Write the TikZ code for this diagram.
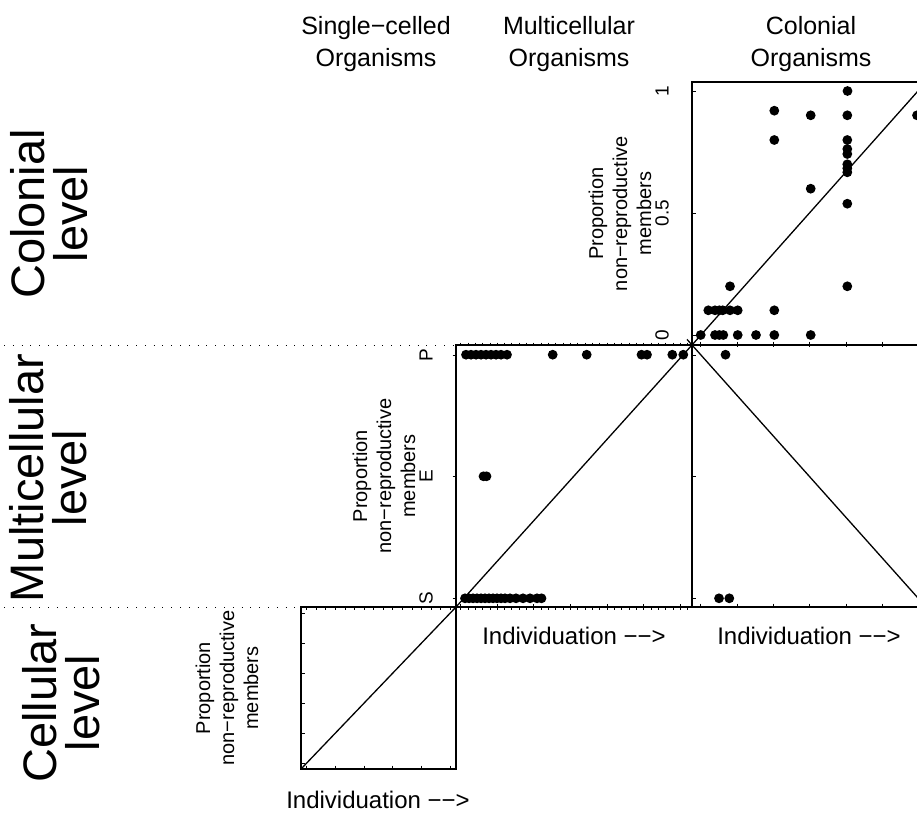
\documentclass[tikz,border=0pt]{standalone}
\usepackage{fontspec}
\setmainfont{Liberation Sans}
\usetikzlibrary{calc}
\begin{document}
\begin{tikzpicture}[x=1pt,y=-1pt,
  frame/.style={line width=1.5pt},
  diag/.style={line width=1.3pt},
  tickm/.style={line width=0.9pt},
  sepline/.style={line width=1pt, dash pattern=on 1pt off 7.8pt},
  hdr/.style={font=\fontsize{25}{30}\selectfont, anchor=base, inner sep=0pt},
  rowlab/.style={font=\fontsize{47}{43}\selectfont, align=center, rotate=90, inner sep=0pt},
  ytitle/.style={font=\fontsize{20}{24}\selectfont, align=center, rotate=90, inner sep=0pt},
  ticklab/.style={font=\fontsize{19}{22}\selectfont, rotate=90, inner sep=0pt},
  xlab/.style={font=\fontsize{24}{28}\selectfont, inner sep=0pt}]
\useasboundingbox (0,0) rectangle (917,813);
\begin{scope}
\clip (0,0) rectangle (917,813);

% panel corners
\coordinate (trBL) at (692,345); \coordinate (trTL) at (692,82);
\coordinate (trTR) at (926,82); \coordinate (trBR) at (926,345);
\coordinate (mcBL) at (456,607); \coordinate (mcTL) at (456,345);
\coordinate (mcTR) at (692,345); \coordinate (mcBR) at (692,607);
\coordinate (mrBL) at (692,607); \coordinate (mrTL) at (692,345);
\coordinate (mrTR) at (926,345); \coordinate (mrBR) at (926,607);
\coordinate (blBL) at (301,769); \coordinate (blTL) at (301,607);
\coordinate (blTR) at (456,607); \coordinate (blBR) at (456,769);
\coordinate (mrX) at (687,339.4);

% separators
\coordinate (sepA) at (4,345); \coordinate (sepB) at (4,607);
\draw[sepline] (sepA) -- (mcTL);
\draw[sepline] (sepB) -- (blTL);

% frames
\draw[frame] (trBL) -- (trTL) -- (trTR);
\draw[frame] (trBL) -- (trBR);
\draw[frame] (mcBL) rectangle (mcTR);
\draw[frame] (mrBL) -- (mrTL) -- (mrTR);
\draw[frame] (mrBL) -- (mrBR);
\draw[frame] (blBL) rectangle (blTR);

% diagonals
\draw[diag] (trBL) -- (trTR);
\draw[diag] (mcBL) -- (mcTR);
\draw[diag] (mrX) -- (mrBR);
\draw[diag] (blBL) -- (blTR);

% ticks: top-right panel
\foreach \yy in {91,213,335} \draw[tickm] (692,\yy) -- (695.5,\yy);
\foreach \xx in {700.7,737.1,773.5,809.9,846.3,882.7} \draw[tickm] (\xx,341.5) -- (\xx,347);
% middle-right
\foreach \yy in {355,476,598} \draw[tickm] (692,\yy) -- (695.5,\yy);
\foreach \xx in {700.7,737.1,773.5,809.9,846.3,882.7} \draw[tickm] (\xx,603.5) -- (\xx,607);
% middle-centre
\foreach \yy in {355,476,598} \draw[tickm] (452.5,\yy) -- (456,\yy);
\foreach \k in {0,...,31} {
  \draw[tickm] (460.7+7.32*\k,342.5) -- (460.7+7.32*\k,345);
  \draw[tickm] (460.7+7.32*\k,607) -- (460.7+7.32*\k,609.5);
}
\foreach \k in {0,...,6} \draw[tickm] (460.7+36.6*\k,604) -- (460.7+36.6*\k,610);
% bottom-left
\foreach \k in {0,...,5} {
  \draw[tickm] (301,613.3+30*\k) -- (304.5,613.3+30*\k);
  \draw[tickm] (306.7+28.7*\k,765.5) -- (306.7+28.7*\k,769);
}
\foreach \k in {0,...,15} \draw[tickm] (306.7+9.57*\k,607) -- (306.7+9.57*\k,609.5);

% data points: colonial x colonial
\foreach \p in {(847.5,91),(774.3,110.7),(810.7,115.3),(847.3,115.3),(917,115.3),
  (774.3,140),(847.3,140),(847.3,149),(847.3,154),(847.3,164.3),(847.3,168.3),(847.3,172.3),
  (810.7,188.7),(847.3,203.7),(730,286.3),(847.3,286.3),
  (708.3,310.3),(715,310.3),(719.3,310.3),(722.7,310.3),(730,310.3),(737.7,310.3),(774.3,310.3),
  (700.7,335),(715,335),(719.3,335),(723.3,335),(737.7,335),(756,335),(774.3,335),(810.7,335)}
  \fill \p circle (4.9pt);
% multicellular x multicellular
\foreach \xx in {466,471,476,481,486,491,496,501,507,552.7,586.7,641.5,647,672.3,683.3}
  \fill (\xx,354.7) circle (4.9pt);
\foreach \xx in {483.5,486.5} \fill (\xx,476.3) circle (4.9pt);
\foreach \xx in {465,469,473,477,481,485,489,493,497,501,505,510,516,523,530,537,541.5}
  \fill (\xx,598.3) circle (4.9pt);
% multicellular x colonial
\foreach \p in {(725.5,354.7),(719,598.3),(729.3,598.3)} \fill \p circle (4.9pt);
\end{scope}

% headers
\node[hdr] (h1a) at (376,34.5) {Single−celled};
\node[hdr] (h1b) at (376,67) {Organisms};
\node[hdr] (h2a) at (569,34.5) {Multicellular};
\node[hdr] (h2b) at (569,67) {Organisms};
\node[hdr] (h3a) at (811,34.5) {Colonial};
\node[hdr] (h3b) at (811,67) {Organisms};

% row labels
\node[rowlab] (r1) at (49,214) {Colonial\\level};
\node[rowlab] (r2) at (48,478) {Multicellular\\level};
\node[rowlab] (r3) at (61,703) {Cellular\\level};

% y titles
\node[ytitle] (yt1) at (620,213.5) {Proportion\\non−reproductive\\members};
\node[ytitle] (yt2) at (384,476) {Proportion\\non−reproductive\\members};
\node[ytitle] (yt3) at (227,688) {Proportion\\non−reproductive\\members};

% tick labels
\node[ticklab] (t0) at (662,335) {0};
\node[ticklab] (t05) at (662,213) {0.5};
\node[ticklab] (t1) at (662,91) {1};
\node[ticklab] (tS) at (426,598) {S};
\node[ticklab] (tE) at (426,476) {E};
\node[ticklab] (tP) at (426,355) {P};

% x labels
\node[xlab] (x1) at (574,636) {Individuation −−>};
\node[xlab] (x2) at (809,636) {Individuation −−>};
\node[xlab] (x3) at (378,800) {Individuation −−>};
\end{tikzpicture}
\end{document}
